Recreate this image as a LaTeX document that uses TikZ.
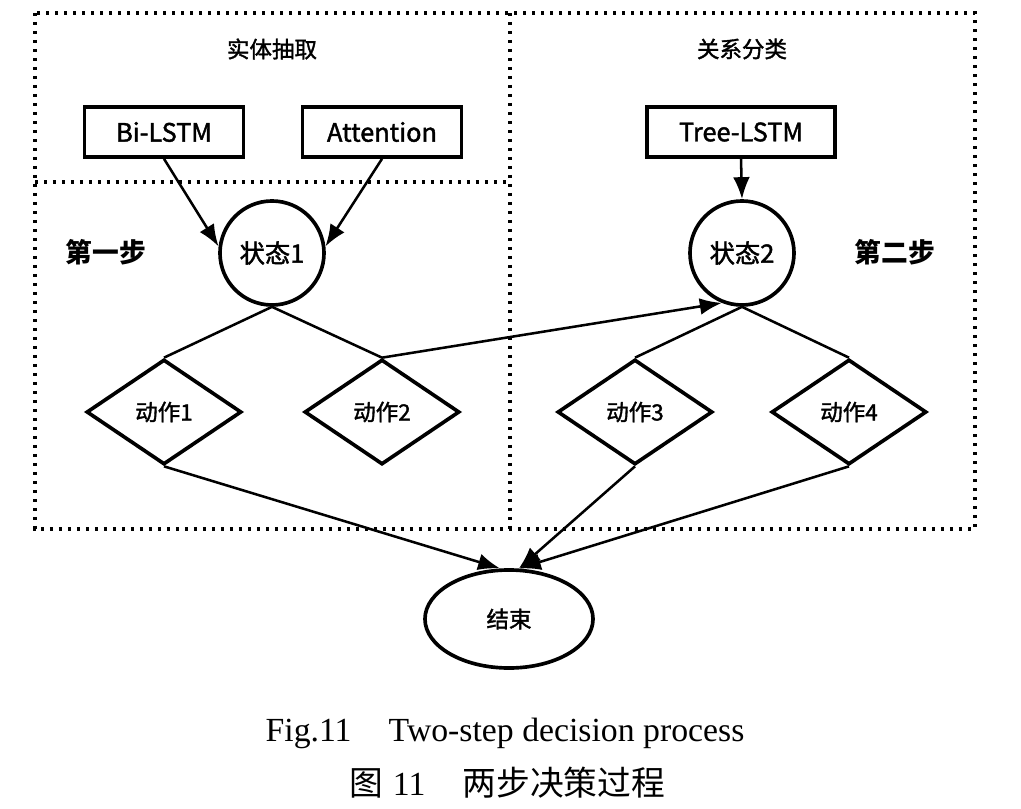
\documentclass[tikz,border=0pt]{standalone}
\usepackage{fontspec}
\setmainfont{Liberation Serif}
\newfontfamily\cjk{Noto Sans CJK SC}
\newfontfamily\cjkm{Noto Sans CJK SC}[FakeBold=1.6]
\usetikzlibrary{shapes.geometric,arrows.meta}
\begin{document}
\begin{tikzpicture}[x=0.025cm,y=-0.025cm,
  lbl/.style={font=\cjkm\fontsize{16}{16}\selectfont},
  biglbl/.style={font=\cjkm\fontsize{18}{18}\selectfont},
  box/.style={biglbl, draw, line width=2.6pt, minimum width=3.975cm, minimum height=1.25cm, inner sep=0pt, fill=white},
  state/.style={biglbl, draw, circle, line width=2.6pt, minimum size=2.6cm, inner sep=0pt, fill=white},
  act/.style={lbl, draw, diamond, line width=2.6pt, minimum width=3.875cm, minimum height=2.625cm, inner sep=0pt},
  term/.style={lbl, draw, ellipse, line width=2.6pt, minimum width=4.2cm, minimum height=2.45cm, inner sep=0pt, fill=white},
  region/.style={line width=2.4pt, dash pattern=on 2.2pt off 4.2pt},
  steplbl/.style={font=\cjk\bfseries\fontsize{19}{19}\selectfont},
  conn/.style={line width=1.8pt},
  arr/.style={conn, -{Latex[length=0.55cm,width=0.42cm]}}
]
\useasboundingbox (0,0) rectangle (1021,809);

% dotted regions
\draw[region] (35,13) rectangle (975,529);
\coordinate (vt) at (510,13);
\coordinate (vb) at (510,529);
\coordinate (hl) at (35,182);
\coordinate (hr) at (510,182);
\draw[region] (vt) -- (vb);
\draw[region] (hl) -- (hr);

% titles
\node[lbl] (t1) at (272,49) {实体抽取};
\node[lbl] (t2) at (742,49) {关系分类};
\node[steplbl] (st1) at (106,252) {第一步};
\node[steplbl] (st2) at (895,252) {第二步};

% nodes
\node[box] (bilstm) at (164,132) {Bi-LSTM};
\node[box] (att) at (382,132) {Attention};
\node[box, minimum width=4.7cm] (tree) at (741,132) {Tree-LSTM};
\node[state] (s1) at (272,253) {状态1};
\node[state] (s2) at (742,253) {状态2};
\node[act] (a1) at (164,412) {动作1};
\node[act] (a2) at (382,412) {动作2};
\node[act] (a3) at (635,412) {动作3};
\node[act] (a4) at (849,412) {动作4};
\node[term] (end) at (509,619) {结束};

% connectors
\draw[arr] (bilstm.south) -- (s1.173);
\draw[arr] (att.south) -- (s1.7);
\draw[arr] (tree.south) -- (s2.north);
\draw[conn] (s1.south) -- (a1.north);
\draw[conn] (s1.south) -- (a2.north);
\draw[arr] (a2.north) -- (s2.248);
\draw[conn] (s2.south) -- (a3.north);
\draw[conn] (s2.south) -- (a4.north);
\draw[arr] (a1.south) -- (end.100);
\draw[arr] (a3.south) -- (end.79);
\draw[arr] (a4.south) -- (end.79);

% caption
\node[font=\fontsize{24}{24}\selectfont] (cap1) at (505,733) {Fig.11\hspace{1.1em}Two-step decision process};
\node[font=\cjk\fontsize{24}{24}\selectfont] (cap2) at (507,783) {图\hspace{0.3em}{\rmfamily 11}\hspace{1.1em}两步决策过程};
\end{tikzpicture}
\end{document}
